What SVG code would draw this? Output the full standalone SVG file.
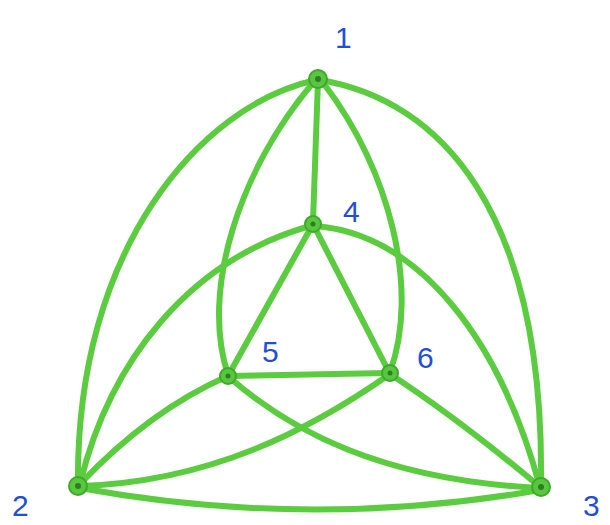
<svg xmlns="http://www.w3.org/2000/svg" width="610" height="525" viewBox="0 0 610 525">
<style>
.e{fill:none;stroke:#5bcc3f;stroke-width:6;stroke-linecap:round}
.n circle.o{fill:#58c63e;stroke:#3fa82c;stroke-width:2}
.n circle.c{fill:#2f7d22}
.l{font-family:"Liberation Sans",Arial,sans-serif;font-size:30px;fill:#1f4fd6}
</style>
<rect width="610" height="525" fill="#ffffff"/>
<g id="connectors">
<path class="e" d="M316,80 C200,105 75,250 78,486"/>
<path class="e" d="M320,80 C440,100 545,210 541,487"/>
<path class="e" d="M80,488 Q310,530 540,490"/>
<path class="e" d="M318,80 L313,222"/>
<path class="e" d="M312,84 C240,170 200,290 228,375"/>
<path class="e" d="M324,84 C390,170 420,290 390,372"/>
<path class="e" d="M80,484 C110,360 190,260 310,226"/>
<path class="e" d="M316,226 C420,235 500,340 540,487"/>
<path class="e" d="M80,484 Q150,410 228,376"/>
<path class="e" d="M230,378 C290,430 380,480 540,488"/>
<path class="e" d="M80,486 C210,482 310,430 390,374"/>
<path class="e" d="M390,374 Q460,420 540,487"/>
<path class="e" d="M313,224 L228,376"/>
<path class="e" d="M313,224 L390,374"/>
<path class="e" d="M228,376 L390,373"/>
</g>
<g id="n1" class="n"><circle class="o" cx="318" cy="79" r="9"/><circle class="c" cx="318" cy="79" r="3"/><text class="l" x="335" y="48">1</text></g>
<g id="n4" class="n"><circle class="o" cx="313" cy="224" r="8"/><circle class="c" cx="313" cy="224" r="2.5"/><text class="l" x="343" y="222">4</text></g>
<g id="n5" class="n"><circle class="o" cx="228" cy="376" r="8"/><circle class="c" cx="228" cy="376" r="2.5"/><text class="l" x="262" y="362">5</text></g>
<g id="n6" class="n"><circle class="o" cx="390" cy="373" r="8"/><circle class="c" cx="390" cy="373" r="2.5"/><text class="l" x="417" y="368">6</text></g>
<g id="n2" class="n"><circle class="o" cx="78" cy="486" r="9"/><circle class="c" cx="78" cy="486" r="3"/><text class="l" x="12" y="516">2</text></g>
<g id="n3" class="n"><circle class="o" cx="541" cy="487" r="9"/><circle class="c" cx="541" cy="487" r="3"/><text class="l" x="583" y="516">3</text></g>
</svg>
